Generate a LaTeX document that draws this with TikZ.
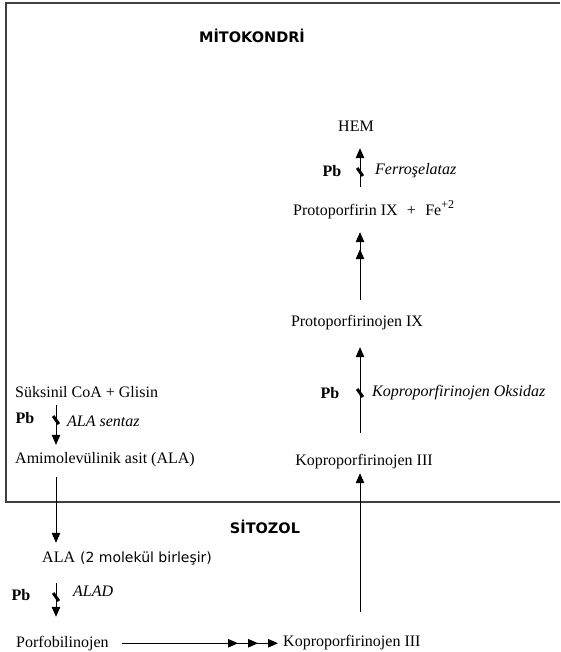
\documentclass[tikz,border=0pt]{standalone}
\usepackage{fontspec}
\setmainfont{Liberation Serif}
\newfontfamily\tahoma{DejaVu Sans}
\usepackage{tikz}
\usetikzlibrary{arrows.meta}

\tikzset{pbcut/.pic={\draw[line width=3pt] (-2.8,-4) -- (2.8,4);}}

\begin{document}
\begin{tikzpicture}[x=1pt,y=-1pt,
		txt/.style={inner sep=0pt,font=\fontsize{16}{19}\selectfont,text height=11pt,text depth=3.5pt},
		enz/.style={txt,anchor=west,font=\fontsize{16}{19}\selectfont\itshape},
		pb/.style={inner sep=0pt,font=\fontsize{16}{19}\selectfont\bfseries},
		zone/.style={inner sep=0pt,font=\fontsize{14.5}{17}\selectfont\tahoma\bfseries},
		step1/.style={line width=1pt,-{Triangle[length=10pt,width=8.5pt]}},
		step2/.style={line width=1pt,-{Triangle[length=10pt,width=8.5pt,sep=7pt]Triangle[length=10pt,width=8.5pt]}},
		step3/.style={line width=1pt,-{Triangle[length=10pt,width=8.5pt,sep=10pt]Triangle[length=10pt,width=8.5pt,sep=10pt]Triangle[length=10pt,width=8.5pt]}}]
		\useasboundingbox (0,0) rectangle (560,652);
		% mitokondri zarı
		\draw [line width=1.3pt,black!75] (560,3) -- (6,3) -- (6,502) -- (560,502);
		\node [zone] (mito) at (252,36) {MİTOKONDRİ};
		\node [zone] (sito) at (265,527) {SİTOZOL};
		\coordinate (rcol) at (360,0);
		\coordinate (lcol) at (56,0);
		% sag kolon
		\node [txt,anchor=base] (hem) at (356,132) {HEM};
		\node [txt,anchor=base west] (proto) at (293,215) {Protoporfirin IX\,\, +\,\, Fe\raisebox{6.5pt}{\fontsize{12}{12}\selectfont +2}};
		\node [txt,anchor=base] (protojen) at (357,326) {Protoporfirinojen IX};
		\node [txt,anchor=base] (kopro1) at (364,465) {Koproporfirinojen III};
		\node [txt,anchor=base west] (kopro2) at (283,646) {Koproporfirinojen III};
		% sol kolon
		\node [txt,anchor=base west] (suks) at (15,397) {Süksinil CoA + Glisin};
		\node [txt,anchor=base west] (ala) at (15,463) {Amimolevülinik asit (ALA)};
		\node [txt,anchor=base west] (ala2) at (42,562) {ALA\hspace{5pt}{\tahoma\fontsize{14}{17}\selectfont(2 molekül birleşir)}};
		\node [txt,anchor=base west] (porfo) at (16,647) {Porfobilinojen};
		% enzimler
		\node [pb] (pb1) at (332,171) {Pb};
		\node [enz] (ferro) at (375,171) {Ferroşelataz};
		\node [pb] (pb2) at (330,393) {Pb};
		\node [enz] (kopox) at (372,393) {Koproporfirinojen Oksidaz};
		\node [pb] (pb3) at (25,418) {Pb};
		\node [enz] (alas) at (67,423) {ALA sentaz};
		\node [pb] (pb4) at (21,595) {Pb};
		\node [enz] (alad) at (73,593) {ALAD};
		% oklar
		\draw [step1,shorten <=17pt,shorten >=12.5pt] (proto.north -| rcol) -- (hem.south -| rcol);
		\draw [step2,shorten <=15pt,shorten >=13.5pt] (protojen.north -| rcol) -- (proto.south -| rcol);
		\draw [step1,shorten <=21pt,shorten >=17.5pt] (kopro1.north -| rcol) -- (protojen.south -| rcol);
		\draw [step1,shorten <=23pt,shorten >=4.5pt] (kopro2.north -| rcol) -- (kopro1.south -| rcol);
		\draw [step1,shorten <=4.5pt,shorten >=7pt] (suks.south -| lcol) -- (ala.north -| lcol);
		\draw [step1,shorten <=10.5pt,shorten >=8pt] (ala.south -| lcol) -- (ala2.north -| lcol);
		\draw [step1,shorten <=17.5pt,shorten >=19pt] (ala2.south -| lcol) -- (porfo.north -| lcol);
		\draw [step3,shorten <=13pt,shorten >=5pt] (porfo.east) -- (porfo.east -| kopro2.west);
		% Pb inhibisyonu
		\pic at (360,172) {pbcut};
		\pic at (360,393) {pbcut};
		\pic at (56,420) {pbcut};
		\pic at (56,597) {pbcut};
	\end{tikzpicture}
\end{document}
